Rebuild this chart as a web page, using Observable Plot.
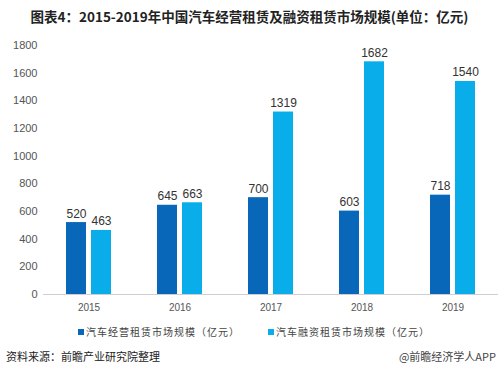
<!DOCTYPE html>
<html><head><meta charset="utf-8">
<script src="https://cdn.jsdelivr.net/npm/d3@7"></script>
<script src="https://cdn.jsdelivr.net/npm/@observablehq/plot@0.6"></script>
<style>
body{margin:0;width:499px;height:374px;background:#fff;position:relative;overflow:hidden;font-family:"Noto Sans CJK SC","Noto Sans",sans-serif;}
#title{position:absolute;left:0;top:6px;width:499px;text-align:center;font-size:13.5px;font-weight:bold;color:#222;white-space:nowrap;}
#chart{position:absolute;left:0;top:30px;}
#legend{position:absolute;top:324px;left:0;width:499px;font-size:10px;letter-spacing:1px;color:#444;white-space:nowrap;}
.lg{position:absolute;top:0;display:flex;align-items:center;}
.sw{width:6px;height:6px;margin-right:2px;display:inline-block;}
#src{position:absolute;left:6px;top:348px;font-size:11px;color:#222;}
#app{position:absolute;right:3px;top:348px;font-size:11px;color:#444;}
</style></head><body>
<div id="title">图表4：2015-2019年中国汽车经营租赁及融资租赁市场规模(单位：亿元)</div>
<div id="chart"></div>
<div id="legend"></div>
<div id="src">资料来源：前瞻产业研究院整理</div>
<div id="app">@前瞻经济学人APP</div>
<script>
const years = ["2015","2016","2017","2018","2019"];
const seriesNames = ["汽车经营租赁市场规模（亿元）","汽车融资租赁市场规模（亿元）"];
const operating = [520, 645, 700, 603, 718];
const finance = [463, 663, 1319, 1682, 1540];
const colors = ["#0967B9", "#09ADE9"];
const yTicks = [0,200,400,600,800,1000,1200,1400,1600,1800];

const data = [];
years.forEach((y,i)=>{
  data.push({year:y, series:seriesNames[0], value:operating[i]});
  data.push({year:y, series:seriesNames[1], value:finance[i]});
});

const plot = Plot.plot({
  width: 499,
  height: 290,
  marginTop: 15,
  marginBottom: 26,
  marginLeft: 42,
  marginRight: 0,
  style: {fontFamily: "'Liberation Sans', Arial, sans-serif", fontSize: "10px", color: "#555", background: "transparent"},
  fx: {domain: years, padding: 0, label: null, axis: null},
  x: {domain: seriesNames, paddingInner: 0.19, paddingOuter: 0.86, axis: null},
  y: {domain: [0,1800], ticks: yTicks, label: null, tickSize: 0, tickPadding: 6, tickFormat: d => String(d)},
  color: {domain: seriesNames, range: colors},
  marks: [
    Plot.axisY({ticks: yTicks, tickSize: 0, tickPadding: 6, label: null, fontSize: 11, tickFormat: d=>String(d)}),
    Plot.barY(data, {fx: "year", x: "series", y: "value", fill: "series"}),
    Plot.text(data, {fx: "year", x: "series", y: "value", text: d => String(d.value), lineAnchor: "bottom", dy: -5, fontSize: 12, fill: "#333"}),
    Plot.ruleY([0], {stroke: "#cfcfcf", strokeWidth: 1}),
    Plot.axisFx({domain: years, tickSize: 0, tickPadding: 9, label: null, fontSize: 10, anchor: "bottom"})
  ]
});
document.getElementById("chart").appendChild(plot);

const lg = document.getElementById("legend");
const lefts = [78, 268];
seriesNames.forEach((s,i)=>{
  const d = document.createElement("div");
  d.className = "lg";
  d.style.left = lefts[i] + "px";
  d.innerHTML = `<span class="sw" style="background:${colors[i]}"></span><span>${s}</span>`;
  lg.appendChild(d);
});
</script>
</body></html>
